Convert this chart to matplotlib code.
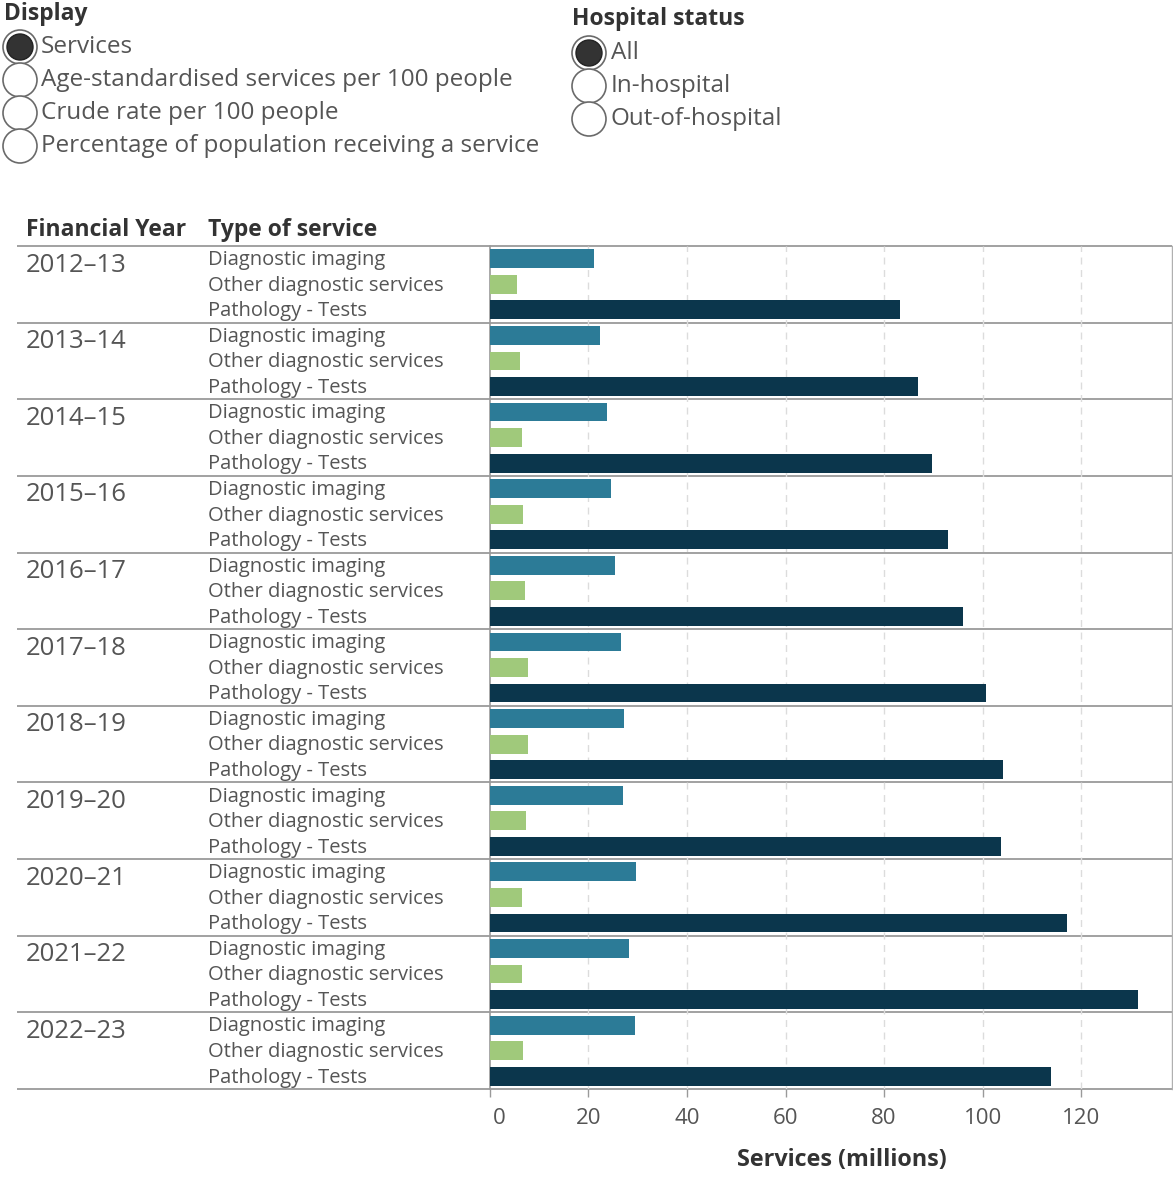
import matplotlib
matplotlib.use("Agg")
import matplotlib.pyplot as plt
from matplotlib.patches import Circle
from matplotlib.transforms import offset_copy
import numpy as np

# ---- data (services, millions) ----
years = ["2012–13", "2013–14", "2014–15", "2015–16", "2016–17", "2017–18",
         "2018–19", "2019–20", "2020–21", "2021–22", "2022–23"]
service_types = ["Diagnostic imaging", "Other diagnostic services", "Pathology - Tests"]
diagnostic_imaging = [21.2, 22.4, 23.7, 24.6, 25.5, 26.7, 27.3, 27.1, 29.7, 28.3, 29.5]
other_diagnostic = [5.6, 6.2, 6.6, 6.8, 7.1, 7.7, 7.7, 7.4, 6.6, 6.6, 6.8]
pathology_tests = [83.2, 86.9, 89.7, 93.0, 96.1, 100.7, 104.1, 103.8, 117.0, 131.6, 113.9]
x_ticks = [0, 20, 40, 60, 80, 100, 120]

display_options = ["Services", "Age-standardised services per 100 people",
                   "Crude rate per 100 people", "Percentage of population receiving a service"]
hospital_options = ["All", "In-hospital", "Out-of-hospital"]

colors = ["#2c7b97", "#a0c97b", "#0b364c"]
TXT = "#555555"
HEAD = "#333333"
LINE = "#9a9a9a"
FONT = "Open Sans"
HEAD_W = "bold"
HEAD_SIZE = 16.5

W, H = 1173, 1177
fig = plt.figure(figsize=(W / 100, H / 100), dpi=100)
fig.patch.set_facecolor("white")

# overlay in pixel coordinates for text, controls and row rules
ov = fig.add_axes([0, 0, 1, 1], zorder=0)
ov.set_xlim(0, W)
ov.set_ylim(H, 0)
ov.axis("off")

# plot frame (pixels)
px_left, px_right, px_top, px_bottom = 489.7, 1172.0, 246.0, 1089.0
n_years = len(years)
band = (px_bottom - px_top) / n_years

ax = fig.add_axes([px_left / W, 1 - px_bottom / H,
                   (px_right - px_left) / W, (px_bottom - px_top) / H], zorder=1)
ax.set_facecolor("none")
ax.set_xlim(0, (px_right - px_left) / 4.93)
n_rows = n_years * len(service_types)
ax.set_ylim(n_rows, 0)

series = [diagnostic_imaging, other_diagnostic, pathology_tests]
for k, vals in enumerate(series):
    ypos = np.arange(n_years) * 3 + k + 0.5
    ax.barh(ypos, vals, height=0.74, color=colors[k], edgecolor="none", zorder=3)

ax.set_xticks(x_ticks)
ax.set_xticklabels([str(t) for t in x_ticks], fontsize=16, color=TXT, family=FONT)
ax.tick_params(axis="x", length=6, width=1, color=LINE, pad=8)
first = ax.get_xticklabels()[0]
first.set_ha("left")
first.set_transform(offset_copy(first.get_transform(), fig=fig, x=3, units="dots"))
ax.set_yticks([])
for xt in x_ticks[1:]:
    ax.axvline(xt, color="#dcdcdc", lw=1, ls=(0, (5, 4)), zorder=1)
for side in ["top", "bottom"]:
    ax.spines[side].set_visible(False)
ax.spines["left"].set_color(LINE)
ax.spines["left"].set_linewidth(1.2)
ax.spines["right"].set_color("#b0b0b0")
ax.spines["right"].set_linewidth(1)
ax.set_xlabel("Services (millions)", fontsize=16.8, fontweight=HEAD_W, color=HEAD,
              family=FONT, va="center")
ax.xaxis.set_label_coords((842 - px_left) / (px_right - px_left),
                          -(1160 - px_bottom) / (px_bottom - px_top))

# row rules and labels
for i in range(n_years + 1):
    y = px_top + i * band
    ov.plot([17, px_right], [y, y], color=LINE, lw=1.3, solid_capstyle="butt")
for i, yr in enumerate(years):
    y0 = px_top + i * band
    ov.text(26, y0 + 19, yr, fontsize=18.5, color=TXT, family=FONT, va="center", ha="left")
    for k, st in enumerate(service_types):
        ov.text(208, y0 + (k + 0.55) * band / 3, st, fontsize=14.5, color=TXT, family=FONT,
                va="center", ha="left")

ov.text(26, 230, "Financial Year", fontsize=HEAD_SIZE, fontweight=HEAD_W, color=HEAD,
        family=FONT, va="center", ha="left")
ov.text(208, 230, "Type of service", fontsize=HEAD_SIZE, fontweight=HEAD_W, color=HEAD,
        family=FONT, va="center", ha="left")


def radio(x, y, selected):
    ov.add_patch(Circle((x, y), 17, facecolor="white", edgecolor="#6a6a6a", lw=1.2, zorder=2))
    if selected:
        ov.add_patch(Circle((x, y), 13, facecolor="#333333", edgecolor="#222222", lw=1, zorder=3))


ov.text(4, 14, "Display", fontsize=HEAD_SIZE, fontweight=HEAD_W, color=HEAD, family=FONT,
        va="center", ha="left")
for i, opt in enumerate(display_options):
    y = 47 + i * 33
    radio(20, y, i == 0)
    ov.text(41, y, opt, fontsize=17.5, color=TXT, family=FONT, va="center", ha="left", zorder=4)

ov.text(572, 19, "Hospital status", fontsize=HEAD_SIZE, fontweight=HEAD_W, color=HEAD,
        family=FONT, va="center", ha="left")
for i, opt in enumerate(hospital_options):
    y = 53 + i * 33
    radio(589, y, i == 0)
    ov.text(611, y, opt, fontsize=17.5, color=TXT, family=FONT, va="center", ha="left", zorder=4)

fig.savefig("out.png", dpi=100, facecolor="white")
